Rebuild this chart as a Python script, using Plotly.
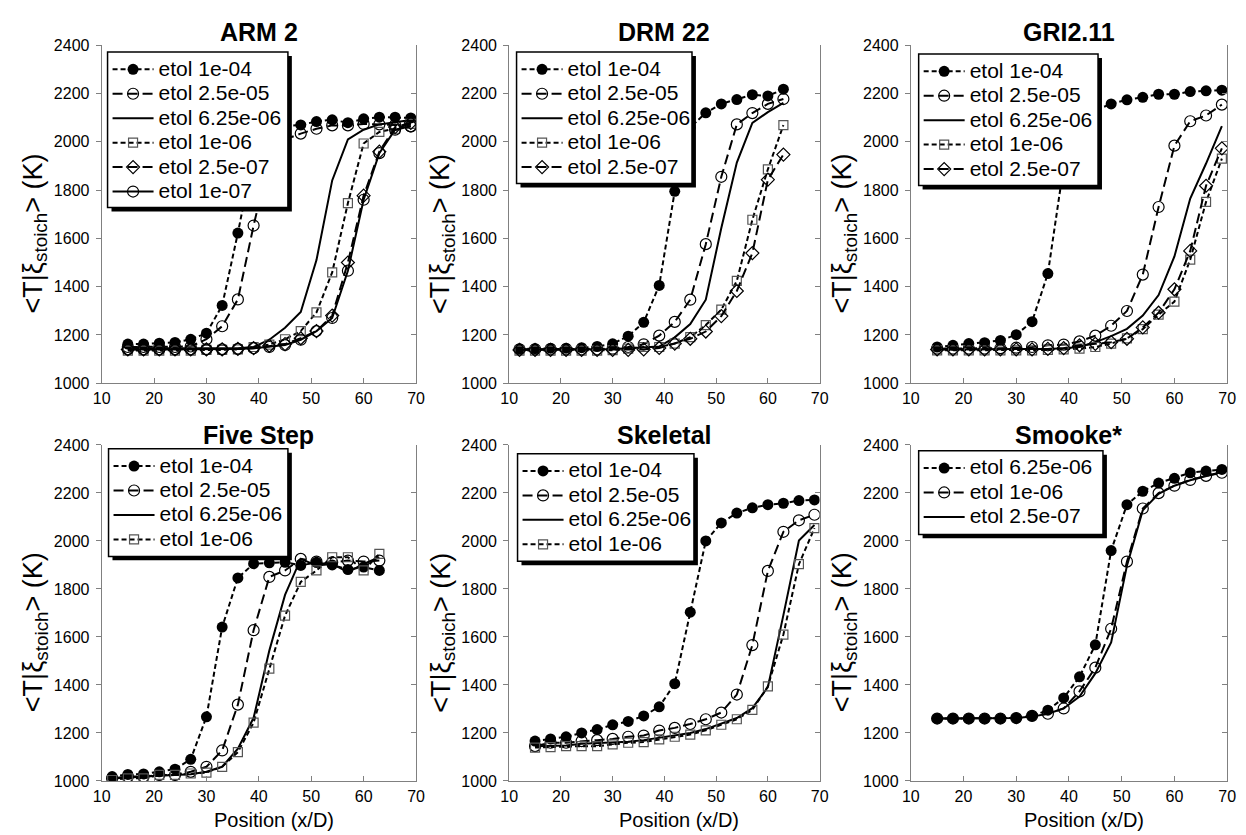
import plotly.graph_objects as go

W, H = 1246, 835

# ---------------- data ----------------
POS_15_69 = [15, 18, 21, 24, 27, 30, 33, 36, 39, 42, 45, 48, 51, 54, 57, 60, 63, 66, 69]
POS_12_63 = [12, 15, 18, 21, 24, 27, 30, 33, 36, 39, 42, 45, 48, 51, 54, 57, 60, 63]

X_TICKS = [10, 20, 30, 40, 50, 60, 70]
Y_TICKS = [1000, 1200, 1400, 1600, 1800, 2000, 2200, 2400]

PANEL_TITLES = ["ARM 2", "DRM 22", "GRI2.11", "Five Step", "Skeletal", "Smooke*"]

# ARM 2
arm2_1e04 = [1162, 1162, 1166, 1169, 1182, 1207, 1322, 1622, 1950, 2050, 2065, 2070, 2084, 2091, 2079, 2095, 2102, 2102, 2099]
arm2_2p5e05 = [1150, 1150, 1150, 1150, 1152, 1182, 1236, 1347, 1653, 1930, 2010, 2034, 2054, 2068, 2068, 2074, 2072, 2070, 2064]
arm2_6p25e06 = [1145, 1145, 1145, 1145, 1145, 1145, 1145, 1145, 1150, 1180, 1230, 1295, 1510, 1840, 2010, 2050, 2072, 2082, 2090]
arm2_1e06 = [1135, 1135, 1135, 1135, 1135, 1138, 1138, 1140, 1150, 1160, 1182, 1216, 1293, 1459, 1746, 1993, 2041, 2054, 2074]
arm2_2p5e07 = [1140, 1140, 1140, 1140, 1140, 1140, 1140, 1142, 1145, 1155, 1162, 1186, 1216, 1280, 1500, 1777, 1959, 2061, 2078]
arm2_1e07 = [1140, 1140, 1140, 1140, 1140, 1140, 1140, 1142, 1145, 1150, 1158, 1180, 1216, 1270, 1466, 1760, 1953, 2050, 2064]

# DRM 22
drm_1e04 = [1142, 1143, 1145, 1145, 1147, 1152, 1163, 1195, 1252, 1405, 1795, 2060, 2120, 2157, 2175, 2195, 2190, 2218]
drm_2p5e05 = [1140, 1140, 1140, 1140, 1140, 1140, 1143, 1150, 1161, 1197, 1254, 1346, 1576, 1855, 2072, 2119, 2157, 2177]
drm_6p25e06 = [1140, 1140, 1140, 1140, 1140, 1140, 1142, 1145, 1148, 1152, 1190, 1245, 1346, 1643, 1914, 2078, 2123, 2161]
drm_1e06 = [1135, 1135, 1135, 1135, 1135, 1135, 1137, 1143, 1150, 1150, 1164, 1191, 1241, 1305, 1424, 1677, 1886, 2069]
drm_2p5e07 = [1138, 1138, 1138, 1138, 1138, 1138, 1138, 1138, 1140, 1146, 1164, 1184, 1214, 1278, 1382, 1539, 1843, 1947]

# GRI2.11
gri_1e04 = [1150, 1157, 1164, 1168, 1177, 1201, 1255, 1454, 1900, 2080, 2130, 2157, 2174, 2184, 2197, 2197, 2208, 2211, 2214]
gri_2p5e05 = [1143, 1143, 1143, 1143, 1145, 1147, 1150, 1157, 1160, 1173, 1197, 1238, 1299, 1450, 1730, 1984, 2085, 2109, 2154]
gri_6p25e06 = [1140, 1140, 1140, 1140, 1140, 1140, 1140, 1142, 1145, 1150, 1170, 1195, 1225, 1280, 1365, 1525, 1765, 1910, 2065]
gri_1e06 = [1136, 1136, 1136, 1136, 1136, 1136, 1136, 1138, 1140, 1143, 1150, 1164, 1186, 1224, 1284, 1338, 1512, 1751, 1930]
gri_2p5e07 = [1140, 1140, 1140, 1140, 1140, 1140, 1140, 1142, 1145, 1157, 1163, 1170, 1184, 1231, 1292, 1389, 1548, 1818, 1973]

# Five Step
five_1e04 = [1018, 1027, 1029, 1038, 1049, 1090, 1267, 1641, 1846, 1905, 1909, 1911, 1898, 1911, 1900, 1881, 1891, 1877]
five_2p5e05 = [1011, 1018, 1018, 1025, 1025, 1038, 1059, 1127, 1318, 1628, 1850, 1877, 1925, 1914, 1911, 1918, 1914, 1918]
five_6p25e06 = [1010, 1015, 1018, 1022, 1025, 1028, 1038, 1059, 1134, 1263, 1543, 1775, 1925, 1898, 1904, 1870, 1904, 1932]
five_1e06 = [1004, 1011, 1011, 1025, 1025, 1031, 1035, 1059, 1120, 1243, 1468, 1689, 1829, 1877, 1932, 1932, 1877, 1946]

# Skeletal
skel_1e04 = [1166, 1175, 1184, 1200, 1214, 1234, 1248, 1271, 1309, 1405, 1703, 2000, 2075, 2116, 2138, 2151, 2157, 2168, 2171]
skel_2p5e05 = [1145, 1159, 1159, 1166, 1170, 1175, 1184, 1189, 1210, 1221, 1237, 1257, 1285, 1360, 1566, 1875, 2038, 2086, 2109]
skel_6p25e06 = [1145, 1146, 1148, 1155, 1157, 1159, 1163, 1170, 1180, 1189, 1200, 1216, 1238, 1262, 1303, 1391, 1691, 2002, 2066]
skel_1e06 = [1139, 1141, 1145, 1145, 1145, 1152, 1159, 1162, 1173, 1184, 1193, 1211, 1234, 1257, 1296, 1394, 1610, 1903, 2053]

# Smooke*
smooke_6p25e06 = [1260, 1260, 1260, 1260, 1260, 1262, 1271, 1295, 1346, 1434, 1567, 1960, 2151, 2207, 2241, 2261, 2284, 2291, 2298]
smooke_1e06 = [1260, 1260, 1260, 1260, 1260, 1262, 1271, 1280, 1302, 1373, 1472, 1634, 1914, 2135, 2199, 2230, 2254, 2271, 2284]
smooke_2p5e07 = [1260, 1260, 1260, 1260, 1260, 1262, 1268, 1280, 1302, 1352, 1448, 1577, 1897, 2128, 2196, 2230, 2253, 2271, 2287]

# ---------------- styles ----------------
FONT = "Liberation Sans, Arial, sans-serif"
SHORT = "5px,3px"
LONG = "10px,5px"
STYLES = {
    "dot_fill": dict(mode="lines+markers", line=dict(color="black", width=2, dash=SHORT),
                     marker=dict(symbol="circle", size=11, color="black")),
    "dash_ocirc": dict(mode="lines+markers", line=dict(color="black", width=2, dash=LONG),
                       marker=dict(symbol="circle-open", size=11, color="black", line=dict(width=1.2))),
    "solid": dict(mode="lines", line=dict(color="black", width=2)),
    "dot_osq": dict(mode="lines+markers", line=dict(color="black", width=2, dash=SHORT),
                    marker=dict(symbol="square-open", size=9, color="#555555", line=dict(width=1.2))),
    "dash_odia": dict(mode="lines+markers", line=dict(color="black", width=2, dash=LONG),
                      marker=dict(symbol="diamond-open", size=10, color="black", line=dict(width=1.2))),
    "solid_ocirc": dict(mode="lines+markers", line=dict(color="black", width=2),
                        marker=dict(symbol="circle-open", size=11, color="black", line=dict(width=1.2))),
}

panels = [
    dict(x=POS_15_69, series=[("etol 1e-04", "dot_fill", arm2_1e04), ("etol 2.5e-05", "dash_ocirc", arm2_2p5e05),
                              ("etol 6.25e-06", "solid", arm2_6p25e06), ("etol 1e-06", "dot_osq", arm2_1e06),
                              ("etol 2.5e-07", "dash_odia", arm2_2p5e07), ("etol 1e-07", "solid_ocirc", arm2_1e07)]),
    dict(x=POS_12_63, series=[("etol 1e-04", "dot_fill", drm_1e04), ("etol 2.5e-05", "dash_ocirc", drm_2p5e05),
                              ("etol 6.25e-06", "solid", drm_6p25e06), ("etol 1e-06", "dot_osq", drm_1e06),
                              ("etol 2.5e-07", "dash_odia", drm_2p5e07)]),
    dict(x=POS_15_69, series=[("etol 1e-04", "dot_fill", gri_1e04), ("etol 2.5e-05", "dash_ocirc", gri_2p5e05),
                              ("etol 6.25e-06", "solid", gri_6p25e06), ("etol 1e-06", "dot_osq", gri_1e06),
                              ("etol 2.5e-07", "dash_odia", gri_2p5e07)]),
    dict(x=POS_12_63, series=[("etol 1e-04", "dot_fill", five_1e04), ("etol 2.5e-05", "dash_ocirc", five_2p5e05),
                              ("etol 6.25e-06", "solid", five_6p25e06), ("etol 1e-06", "dot_osq", five_1e06)]),
    dict(x=POS_15_69, series=[("etol 1e-04", "dot_fill", skel_1e04), ("etol 2.5e-05", "dash_ocirc", skel_2p5e05),
                              ("etol 6.25e-06", "solid", skel_6p25e06), ("etol 1e-06", "dot_osq", skel_1e06)]),
    dict(x=POS_15_69, series=[("etol 6.25e-06", "dot_fill", smooke_6p25e06), ("etol 1e-06", "dash_ocirc", smooke_1e06),
                              ("etol 2.5e-07", "solid", smooke_2p5e07)]),
]

# layout geometry in pixels
COL_PX = [(94, 413), (507.5, 822.5), (915, 1236)]
ROW_PX = [(38, 383), (446, 789)]
# legend frame: left, top, width (px)
LEGEND_BOX = [(100, 45, 183), (515, 45, 178), (923, 47, 182), (101, 450, 182), (516, 455, 179), (923, 452, 187)]
LEG_BASE = 16.5        # legend line-height basis
LEG_TEXT = 21          # visible legend text size
LEG_ITEM_H = LEG_BASE * 1.3 + 3
LEG_PAD = 12


def px_x(p):
    return p / W


def px_y(p):
    return 1 - p / H


fig = go.Figure()
layout = dict(width=W, height=H, margin=dict(l=0, r=0, t=0, b=0),
              paper_bgcolor="white", plot_bgcolor="white",
              font=dict(family=FONT, color="black"), showlegend=True)
annotations = []
shapes = []

for i, p in enumerate(panels):
    r, c = divmod(i, 3)
    n = i + 1
    xa = "x" if n == 1 else f"x{n}"
    ya = "y" if n == 1 else f"y{n}"
    yr = f"y{n + 6}"
    lg = "legend" if n == 1 else f"legend{n}"
    for name, sty, vals in p["series"]:
        s = STYLES[sty]
        label = f'<span style="font-size:{LEG_TEXT}px">{name}</span>'
        fig.add_trace(go.Scatter(x=p["x"], y=vals, name=label, xaxis=xa, yaxis=ya, legend=lg,
                                 mode=s["mode"], line=s["line"], marker=s.get("marker")))
    # helper (empty) trace so the right-hand mirror axis is drawn
    fig.add_trace(go.Scatter(x=[None], y=[None], xaxis=xa, yaxis=yr, showlegend=False, hoverinfo="skip"))

    x0, x1 = COL_PX[c]
    y0, y1 = ROW_PX[r]
    axis_common = dict(showgrid=False, zeroline=False, showline=True, linecolor="#808080", linewidth=1,
                       tickcolor="#808080", ticklen=5, tickwidth=1,
                       tickfont=dict(family=FONT, size=16, color="black"))
    layout["xaxis" if n == 1 else f"xaxis{n}"] = dict(
        domain=[px_x(x0), px_x(x1)], anchor=ya, range=[10, 70], tickvals=X_TICKS,
        ticks="inside", ticklabelstandoff=1, **axis_common)
    layout["yaxis" if n == 1 else f"yaxis{n}"] = dict(
        domain=[px_y(y1), px_y(y0)], anchor=xa, range=[1000, 2400], tickvals=Y_TICKS,
        ticks="outside", ticklabelstandoff=3, **axis_common)
    layout[f"yaxis{n + 6}"] = dict(
        domain=[px_y(y1), px_y(y0)], anchor=xa, overlaying=ya, side="right", range=[1000, 2400],
        tickvals=Y_TICKS, ticks="inside", showticklabels=False, **axis_common)

    lx, ly, lw = LEGEND_BOX[i]
    lh = len(p["series"]) * LEG_ITEM_H + LEG_PAD
    layout[lg] = dict(x=px_x(lx), y=px_y(ly), xanchor="left", yanchor="top", bgcolor="rgba(0,0,0,0)",
                      borderwidth=0, font=dict(family=FONT, size=LEG_BASE, color="black"),
                      tracegroupgap=0, itemwidth=41)
    # legend frame with drop shadow
    shapes.append(dict(type="rect", xref="paper", yref="paper", layer="above",
                       x0=px_x(lx + 4), x1=px_x(lx + lw + 4), y0=px_y(ly + lh + 4), y1=px_y(ly + 4),
                       fillcolor="black", line=dict(width=0)))
    shapes.append(dict(type="rect", xref="paper", yref="paper", layer="above",
                       x0=px_x(lx), x1=px_x(lx + lw), y0=px_y(ly + lh), y1=px_y(ly),
                       fillcolor="white", line=dict(color="black", width=1.5)))

    # panel title
    ty = 25 if r == 0 else 436
    annotations.append(dict(text=f"<b>{PANEL_TITLES[i]}</b>", x=px_x((x0 + x1) / 2), y=px_y(ty),
                            xref="paper", yref="paper", xanchor="center", yanchor="middle", showarrow=False,
                            font=dict(family=FONT, size=25, color="black")))
    # y-axis title
    annotations.append(dict(text="&lt;T|ξ<sub>stoich</sub>&gt; (K)", x=px_x(x0 - 68), y=px_y((y0 + y1) / 2 + 20),
                            xref="paper", yref="paper", xanchor="center", yanchor="middle", textangle=-90,
                            showarrow=False, font=dict(family=FONT, size=27, color="black")))
    if r == 1:
        annotations.append(dict(text="Position (x/D)", x=px_x((x0 + x1) / 2 + 15), y=0,
                                xref="paper", yref="paper", xanchor="center", yanchor="bottom", yshift=-7,
                                showarrow=False, font=dict(family=FONT, size=20, color="black")))

layout["annotations"] = annotations
layout["shapes"] = shapes
fig.update_layout(**layout)
fig.write_html("out.html")
